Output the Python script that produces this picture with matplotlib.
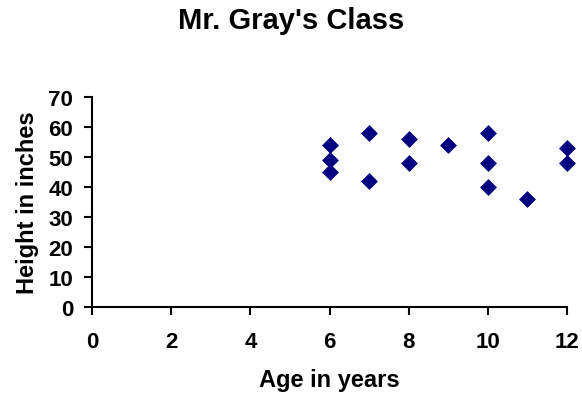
import matplotlib
matplotlib.use("Agg")
import matplotlib.pyplot as plt

age = [6, 6, 6, 7, 7, 8, 8, 9, 10, 10, 10, 11, 12, 12]
height = [54, 49, 45, 58, 42, 56, 48, 54, 58, 48, 40, 36, 53, 48]
x_ticks = [0, 2, 4, 6, 8, 10, 12]
y_ticks = [0, 10, 20, 30, 40, 50, 60, 70]

plt.rcParams['font.family'] = ['Liberation Sans', 'DejaVu Sans']
plt.rcParams['font.weight'] = 'bold'

fig = plt.figure(figsize=(5.82, 4.02), dpi=100)
ax = fig.add_axes([92/582, 1 - 308/402, (567-92)/582, (308-98)/402])

ax.scatter(age, height, marker='D', s=74, color='#000080', linewidths=0,
           zorder=3, clip_on=False)

ax.set_xlim(0, 12)
ax.set_ylim(0, 70)
ax.set_xticks(x_ticks)
ax.set_yticks(y_ticks)
ax.tick_params(direction='out', length=5.5, width=1.5, labelsize=16, colors='black')
ax.tick_params(axis='x', pad=12)
ax.tick_params(axis='y', pad=8)
for lab in ax.get_xticklabels() + ax.get_yticklabels():
    lab.set_fontweight('bold')

for s in ['top', 'right']:
    ax.spines[s].set_visible(False)
for s in ['left', 'bottom']:
    ax.spines[s].set_linewidth(1.5)

ax.set_xlabel('Age in years', fontsize=17, fontweight='bold', labelpad=11)
ax.set_ylabel('Height in inches', fontsize=17, fontweight='bold', labelpad=7)
fig.text(0.5, 1 - 21/402, "Mr. Gray's Class", ha='center', va='center',
         fontsize=21, fontweight='bold')

fig.savefig('out.png', dpi=100)
